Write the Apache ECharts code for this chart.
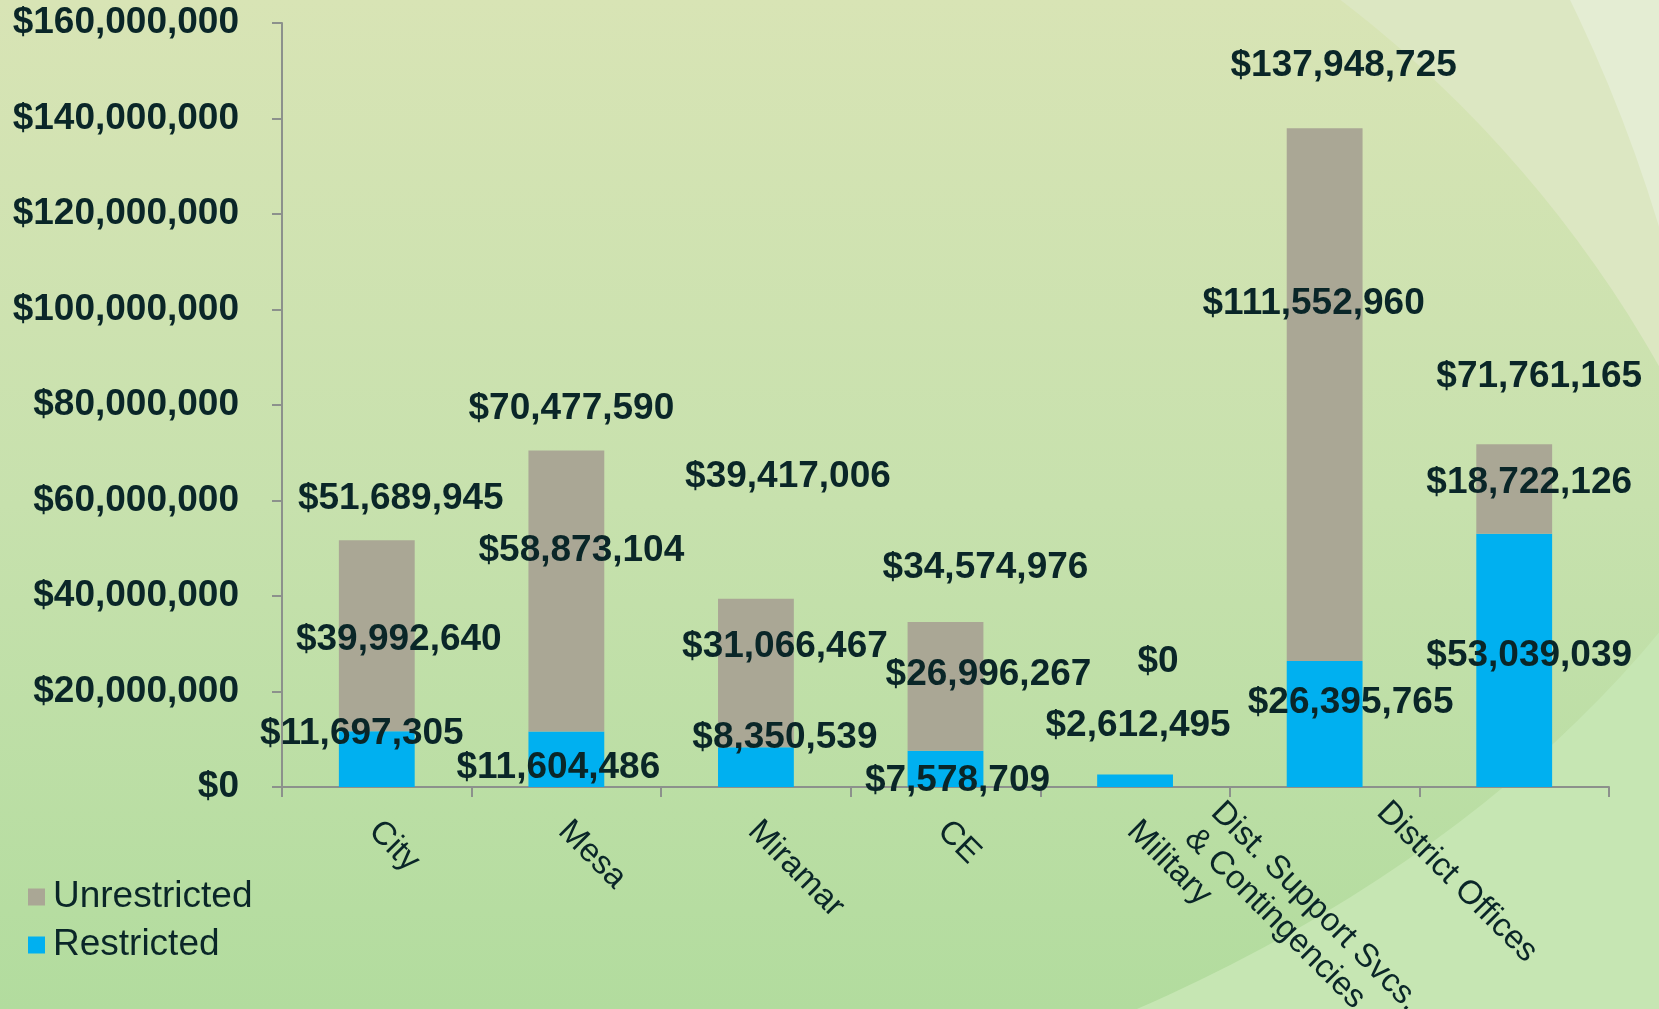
<!DOCTYPE html>
<html>
<head>
<meta charset="utf-8">
<script src="https://cdn.jsdelivr.net/npm/echarts@6/dist/echarts.min.js"></script>
<style>
  html, body { margin: 0; padding: 0; }
  #chart { width: 1659px; height: 1009px; }
</style>
</head>
<body>
<div id="chart"></div>
<script>
// 数据
var categories = ['City', 'Mesa', 'Miramar', 'CE', 'Military', 'Dist. Support Svcs.\n& Contingencies', 'District Offices'];
var restricted = [11697305, 11604486, 8350539, 7578709, 2612495, 26395765, 53039039];
var unrestricted = [39992640, 58873104, 31066467, 26996267, 0, 111552960, 18722126];
var showTotal = [true, true, true, true, false, true, true];
var yMin = 0, yMax = 160000000, yStep = 20000000;

// 标签偏移（手动摆放，跟原图一致）
var restrictedOffsets = [[-15, -25], [-8, 9], [29, -29], [12, 12], [3, -55], [26, -21], [15, -5]];
var unrestrictedOffsets = [[22, 4], [15, -40], [29, -26], [43, -12], [23, -113], [-11, -91], [15, -6]];
var totalOffsets = [[24, -41], [5, -42], [32, -122], [40, -54], [0, 0], [19, -62], [25, -68]];
// x轴标签：沿文字方向 / 垂直文字方向的位移
var xLabelAlong = [-4, -4, -4, -4, -4, -92, -109];
var xLabelAcross = [0, 0, 0, 0, 0, 80, 78];

var textColor = '#0a2628';
var fontFamily = '"Liberation Sans", Arial, sans-serif';

function money(v) {
    return '$' + Number(v).toLocaleString('en-US');
}

var totals = restricted.map(function (r, i) { return r + unrestricted[i]; });

var chart = echarts.init(document.getElementById('chart'));

function labelled(values, offsets, visible) {
    return values.map(function (v, i) {
        return {
            value: v,
            label: {show: visible ? visible[i] : true, offset: offsets[i]}
        };
    });
}

// 每个类目标签用 padding 左移，垂直方向用空白行撑开
var xRich = {t: {fontSize: 33, lineHeight: 37, color: textColor, fontFamily: fontFamily}};
var xData = categories.map(function (c, i) {
    if (xLabelAcross[i]) {
        xRich['sp' + i] = {fontSize: 10, lineHeight: xLabelAcross[i] * 2};
    }
    return {value: c, textStyle: {padding: [0, 0, 0, xLabelAlong[i]]}};
});

var dataLabel = {
    show: true,
    position: 'inside',
    color: textColor,
    fontSize: 37,
    fontWeight: 'bold',
    fontFamily: fontFamily,
    formatter: function (p) { return money(p.value); }
};

var mainFill = new echarts.graphic.LinearGradient(0, 0, 0, 1009, [
    {offset: 0, color: '#d8e4b5'},
    {offset: 0.5, color: '#c7e1ad'},
    {offset: 1, color: '#b2dc9e'}
], true);

var option = {
    animation: false,
    backgroundColor: mainFill,
    textStyle: {fontFamily: fontFamily},
    graphic: [
        // 右下角浅色弧
        {type: 'ring', z: -10, silent: true, x: 300, y: 100, scaleX: 1564 / 1076, scaleY: 1,
            shape: {cx: 0, cy: 0, r0: 1076, r: 3000}, style: {fill: '#c6e6b3'}},
        // 右上角两道浅色带
        {type: 'ring', z: -9, silent: true, shape: {cx: 603, cy: 963, r0: 1213, r: 3500}, style: {fill: '#dce7c2'}},
        {type: 'ring', z: -8, silent: true, shape: {cx: 218, cy: 661, r0: 1505, r: 3500}, style: {fill: '#e4edd3'}}
    ],
    grid: {
        left: 282,
        right: 50,
        top: 23,
        bottom: 222,
        containLabel: false,
        outerBoundsMode: 'none'
    },
    legend: {
        orient: 'vertical',
        left: 23,
        top: 873,
        itemWidth: 17,
        itemHeight: 17,
        itemGap: 10,
        icon: 'rect',
        data: ['Unrestricted', 'Restricted'],
        textStyle: {
            color: textColor,
            fontSize: 37,
            lineHeight: 38,
            fontFamily: fontFamily,
            padding: [0, 0, 0, 3]
        }
    },
    xAxis: {
        type: 'category',
        data: xData,
        axisLine: {lineStyle: {color: '#8c918c', width: 2}},
        axisTick: {show: true, length: 10, interval: 0, lineStyle: {color: '#8c918c', width: 2}},
        axisLabel: {
            interval: 0,
            rotate: -45,
            margin: 42,
            color: textColor,
            fontSize: 33,
            lineHeight: 37,
            fontFamily: fontFamily,
            rich: xRich,
            formatter: function (value, index) {
                var lines = value.split('\n').map(function (s) { return '{t|' + s + '}'; });
                if (xLabelAcross[index]) {
                    lines.unshift('{sp' + index + '| }');
                }
                return lines.join('\n');
            }
        }
    },
    yAxis: {
        type: 'value',
        min: yMin,
        max: yMax,
        interval: yStep,
        splitLine: {show: false},
        axisLine: {show: true, lineStyle: {color: '#8c918c', width: 2}},
        axisTick: {show: true, length: 10, lineStyle: {color: '#8c918c', width: 2}},
        axisLabel: {
            margin: 43,
            color: textColor,
            fontSize: 37,
            fontWeight: 'bold',
            fontFamily: fontFamily,
            formatter: money
        }
    },
    series: [
        {
            name: 'Restricted',
            type: 'bar',
            stack: 'total',
            barWidth: '40%',
            itemStyle: {color: '#00b0f0'},
            label: dataLabel,
            z: 3,
            data: labelled(restricted, restrictedOffsets)
        },
        {
            name: 'Unrestricted',
            type: 'bar',
            stack: 'total',
            barWidth: '40%',
            itemStyle: {color: '#aaa795'},
            label: dataLabel,
            z: 3,
            data: labelled(unrestricted, unrestrictedOffsets)
        },
        {
            name: 'Total',
            type: 'scatter',
            symbolSize: 0,
            itemStyle: {opacity: 1},
            label: dataLabel,
            emphasis: {disabled: true},
            z: 5,
            data: labelled(totals, totalOffsets, showTotal)
        }
    ]
};

chart.setOption(option);
</script>
</body>
</html>
